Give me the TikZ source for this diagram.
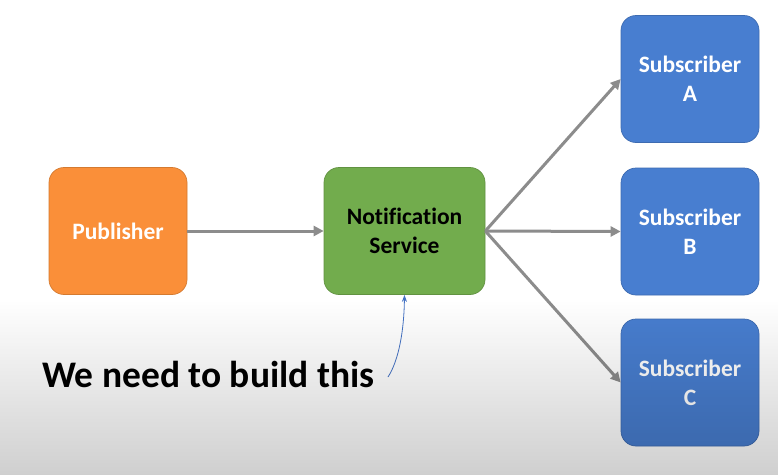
\documentclass[tikz,border=0pt]{standalone}
\usepackage{fontspec}
\setmainfont[Ligatures=NoCommon]{Carlito}
\usetikzlibrary{arrows.meta,fadings}

\definecolor{puborange}{RGB}{250,143,57}
\definecolor{servgreen}{RGB}{114,172,77}
\definecolor{subblue}{RGB}{72,126,208}
\definecolor{arrowgray}{RGB}{140,140,140}
\definecolor{noteblue}{RGB}{68,114,196}
\tikzfading[name=fadedown, top color=transparent!100, bottom color=transparent!0]

\begin{document}
\begin{tikzpicture}[x=1pt, y=-1pt,
    box/.style={rounded corners=15pt, inner sep=0pt, line width=0.7pt,
      minimum height=127pt, align=center,
      font=\fontsize{23.5}{29}\selectfont\bfseries},
    flow/.style={draw=arrowgray, line width=3pt, -{Triangle[length=10pt, width=10pt]}}]
        \useasboundingbox (0,0) rectangle (779,475);
        \fill[white] (0,0) rectangle (779,475);

        \node[box, minimum width=138pt, fill=puborange, draw=puborange!85!black, text=white] (1) at (118,231) {Publisher};
        \node[box, minimum width=161pt, fill=servgreen, draw=servgreen!85!black] (2) at (404.5,231) {Notification\\Service};
        \node[box, minimum width=138pt, fill=subblue, draw=subblue!85!black, text=white] (3) at (690,79) {Subscriber\\A};
        \node[box, minimum width=138pt, fill=subblue, draw=subblue!85!black, text=white] (4) at (690,231.5) {Subscriber\\B};
        \node[box, minimum width=138pt, fill=subblue, draw=subblue!85!black, text=white] (5) at (690,382.5) {Subscriber\\C};
        \node[anchor=base west, inner sep=0pt, font=\fontsize{37.5}{44}\selectfont\bfseries] (6) at (42,387) {We need to build this};
        \coordinate (7) at (388,377);

        \draw[flow] (1.east) -- (2.west);
        \draw[flow] (2.east) -- (3.west);
        \draw[flow] (2.east) -- (4.west);
        \draw[flow] (2.east) -- (5.west);
        \draw[noteblue, line width=0.8pt, -{Stealth[length=7pt, width=5pt]}] (7) .. controls (399,360) and (404,330) .. (2.south);

        % grey shade over the lower part
        \fill[black, opacity=0.19, path fading=fadedown] (0,300) rectangle (779,475);
      \end{tikzpicture}
\end{document}
